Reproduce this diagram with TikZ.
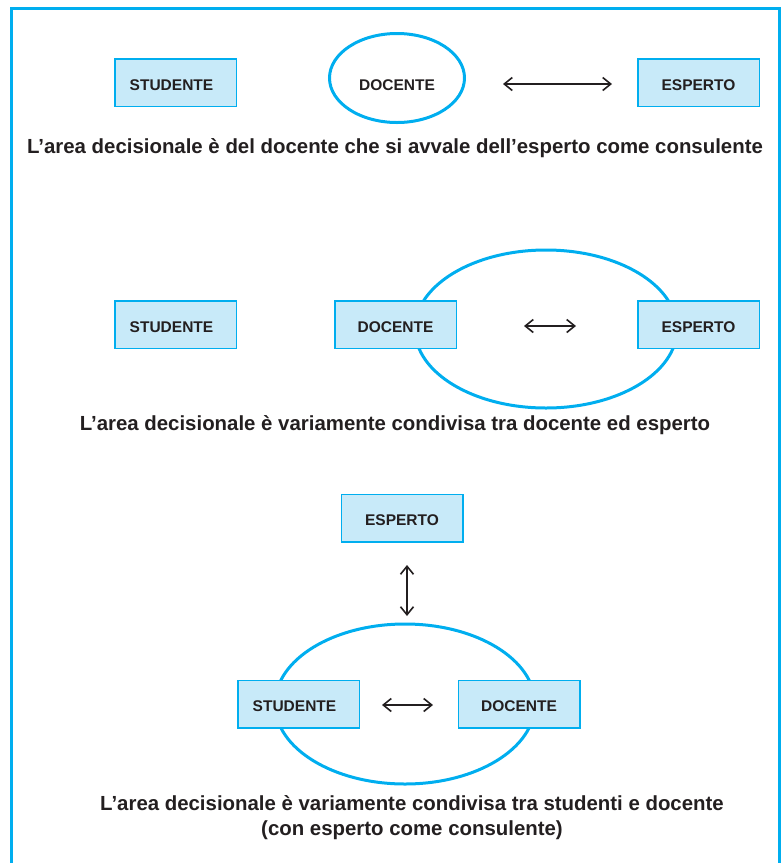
\documentclass[tikz,border=0pt]{standalone}
\usepackage{fontspec}
\setmainfont{Liberation Sans}
\usetikzlibrary{arrows.meta,shapes.geometric}
\definecolor{cyanline}{HTML}{00AEEF}
\definecolor{boxfill}{HTML}{C8EAF9}
\definecolor{ink}{HTML}{231F20}
\newcommand{\stud}{\kern-8pt STUDENTE}
\begin{document}
\begin{tikzpicture}[x=1pt,y=-1pt,
  box/.style={draw=cyanline, fill=boxfill, line width=1.5pt, minimum width=121.5pt, minimum height=47.5pt, inner sep=0pt, text height=15pt, text depth=0pt, font=\fontsize{15.5}{18}\selectfont\bfseries, text=ink},
  ring/.style={draw=cyanline, line width=3pt, ellipse, inner sep=0pt},
  lbl/.style={font=\fontsize{15.5}{18}\selectfont\bfseries, text=ink, inner sep=0pt},
  arr/.style={draw=ink, line width=1.6pt, {Straight Barb[length=8pt,width=13pt]}-{Straight Barb[length=8pt,width=13pt]}},
  capt/.style={font=\fontsize{20.4}{25}\selectfont\bfseries, text=ink, align=center, inner sep=0pt}]
\useasboundingbox (0,0) rectangle (781,863);
% frame
\draw[cyanline, line width=2.8pt] (11.5,875) -- (11.5,8.7) -- (779.5,8.7) -- (779.5,875);

% ---- row 1
\node[ring, minimum width=135pt, minimum height=89pt] (e1) at (397,78) {};
\node[lbl] (d1) at (397,85) {DOCENTE};
\node[box] (s1) at (175.5,82.5) {\stud};
\node[box] (x1) at (698.5,82.5) {ESPERTO};
\coordinate (a1l) at (503,84);
\coordinate (a1r) at (612,84);
\draw[arr] (a1l) -- (a1r);
\node[capt] (c1) at (395,148) {L’area decisionale è del docente che si avvale dell’esperto come consulente};

% ---- row 2
\node[ring, minimum width=262pt, minimum height=158pt] (e2) at (546,329) {};
\node[box] (s2) at (175.5,324.5) {\stud};
\node[box] (d2) at (395.5,324.5) {DOCENTE};
\node[box] (x2) at (698.5,324.5) {ESPERTO};
\coordinate (a2l) at (524,326);
\coordinate (a2r) at (576,326);
\draw[arr] (a2l) -- (a2r);
\node[capt] (c2) at (395,425) {L’area decisionale è variamente condivisa tra docente ed esperto};

% ---- row 3
\node[box] (x3) at (402,518) {ESPERTO};
\node[ring, minimum width=260pt, minimum height=160pt] (e3) at (405,704) {};
\node[box] (s3) at (298.5,704) {\stud};
\node[box] (d3) at (519,704) {DOCENTE};
\coordinate (a3t) at (407,565);
\coordinate (a3b) at (407,616);
\draw[arr] (a3t) -- (a3b);
\coordinate (a4l) at (382,705);
\coordinate (a4r) at (433,705);
\draw[arr] (a4l) -- (a4r);
\node[capt] (c3) at (412,818) {L’area decisionale è variamente condivisa tra studenti e docente\\(con esperto come consulente)};
\end{tikzpicture}
\end{document}
